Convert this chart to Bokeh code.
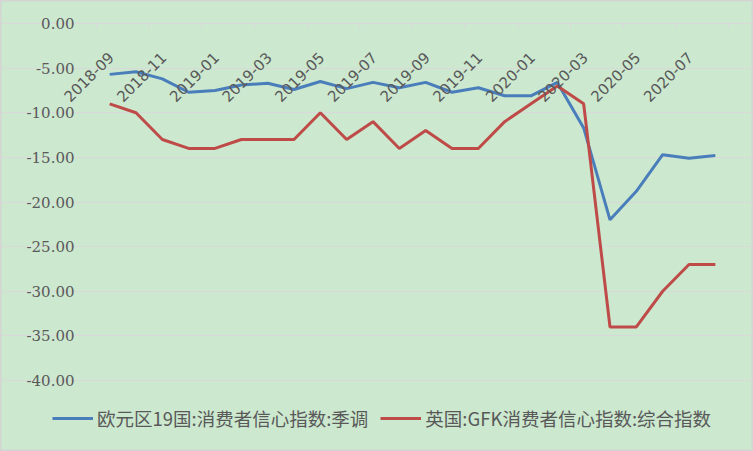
import math
from bokeh.plotting import figure
from bokeh.models import (Range1d, FixedTicker, NumeralTickFormatter,
                          Legend, LegendItem, ColumnDataSource)
from bokeh.core.properties import value
from bokeh.embed import file_html
from bokeh.resources import INLINE

months = ["2018-09", "2018-10", "2018-11", "2018-12", "2019-01", "2019-02",
          "2019-03", "2019-04", "2019-05", "2019-06", "2019-07", "2019-08",
          "2019-09", "2019-10", "2019-11", "2019-12", "2020-01", "2020-02",
          "2020-03", "2020-04", "2020-05", "2020-06", "2020-07", "2020-08"]
eurozone = [-5.7, -5.4, -6.2, -7.7, -7.5, -6.9, -6.7, -7.4, -6.5, -7.3, -6.6, -7.2,
            -6.6, -7.7, -7.2, -8.1, -8.1, -6.6, -11.7, -22.0, -18.8, -14.7, -15.1, -14.8]
uk_gfk = [-9, -10, -13, -14, -14, -13, -13, -13, -10, -13, -11, -14,
          -12, -14, -14, -11, -9, -7, -9, -34, -34, -30, -27, -27]
y_ticks = [-40, -35, -30, -25, -20, -15, -10, -5, 0]
name_ez = "欧元区19国:消费者信心指数:季调"
name_uk = "英国:GFK消费者信心指数:综合指数"

BG = "#CCE8CF"
GRID = "#D9D9D9"
TXT = "#595959"

# layout (pixels) of the plot area inside the 753x451 canvas
W, H = 753, 451
PL, PR, PT, PB = 96, 728, 23, 380

n = len(months)
x0, x1 = -0.5, n - 0.5
ymin, ymax = min(y_ticks), max(y_ticks)
px_x = (PR - PL) / (x1 - x0)
px_y = (PB - PT) / (ymax - ymin)
xr = Range1d(x0 - PL / px_x, x1 + (W - PR) / px_x)
yr = Range1d(ymin - (H - PB) / px_y, ymax + PT / px_y)

idx = list(range(n))
src = ColumnDataSource(dict(x=idx, ez=eurozone, uk=uk_gfk))

p = figure(width=W, height=H, output_backend="svg", toolbar_location=None,
           x_range=xr, y_range=yr,
           min_border=0, min_border_left=0, min_border_right=0,
           min_border_top=0, min_border_bottom=0)
p.background_fill_color = BG
p.border_fill_color = BG
p.outline_line_color = "#D4D4D4"
p.outline_line_width = 2

p.xaxis.visible = False
p.xgrid.visible = False

# y axis at the left edge of the plot area
ya = p.yaxis[0]
ya.fixed_location = x0
ya.ticker = FixedTicker(ticks=y_ticks)
ya.formatter = NumeralTickFormatter(format="0.00")
ya.axis_line_color = None
ya.major_tick_line_color = None
ya.minor_tick_line_color = None
ya.major_tick_out = 0
ya.major_tick_in = 0
ya.major_label_standoff = 22
ya.major_label_text_font = "DejaVu Serif"
ya.major_label_text_font_size = "15px"
ya.major_label_text_color = TXT

p.ygrid.ticker = FixedTicker(ticks=y_ticks)
p.ygrid.grid_line_color = GRID
p.ygrid.bounds = (x0, x1)

# category tick marks at boundaries (every two months)
bnd = [i - 0.5 for i in range(0, n + 1, 2)]
p.segment(x0=bnd, y0=[0] * len(bnd), x1=bnd, y1=[-5 / px_y] * len(bnd),
          line_color=GRID, line_width=1)

r1 = p.line("x", "ez", source=src, line_color="#4A7EBB", line_width=3)
r2 = p.line("x", "uk", source=src, line_color="#BE4B48", line_width=3)

# rotated month labels below the zero line (drawn above the lines)
lab_idx = idx[::2]
p.text(x=lab_idx, y=[0] * len(lab_idx), text=[months[i] for i in lab_idx],
       angle=math.pi / 4, text_align="right", text_baseline="middle",
       x_offset=1, y_offset=31, text_font=value("DejaVu Sans"), text_font_size="15px",
       text_color=TXT)

legend = Legend(items=[LegendItem(label=name_ez, renderers=[r1]),
                       LegendItem(label=name_uk, renderers=[r2])],
                orientation="horizontal", location=(52, 20),
                background_fill_alpha=0, border_line_color=None,
                padding=0, margin=0, spacing=12, glyph_width=41, glyph_height=20,
                label_standoff=4, label_height=20,
                label_text_font="Noto Sans CJK SC",
                label_text_font_size="18.5px", label_text_color=TXT)
p.add_layout(legend, "center")

open("out.html", "w").write(file_html(p, INLINE))
